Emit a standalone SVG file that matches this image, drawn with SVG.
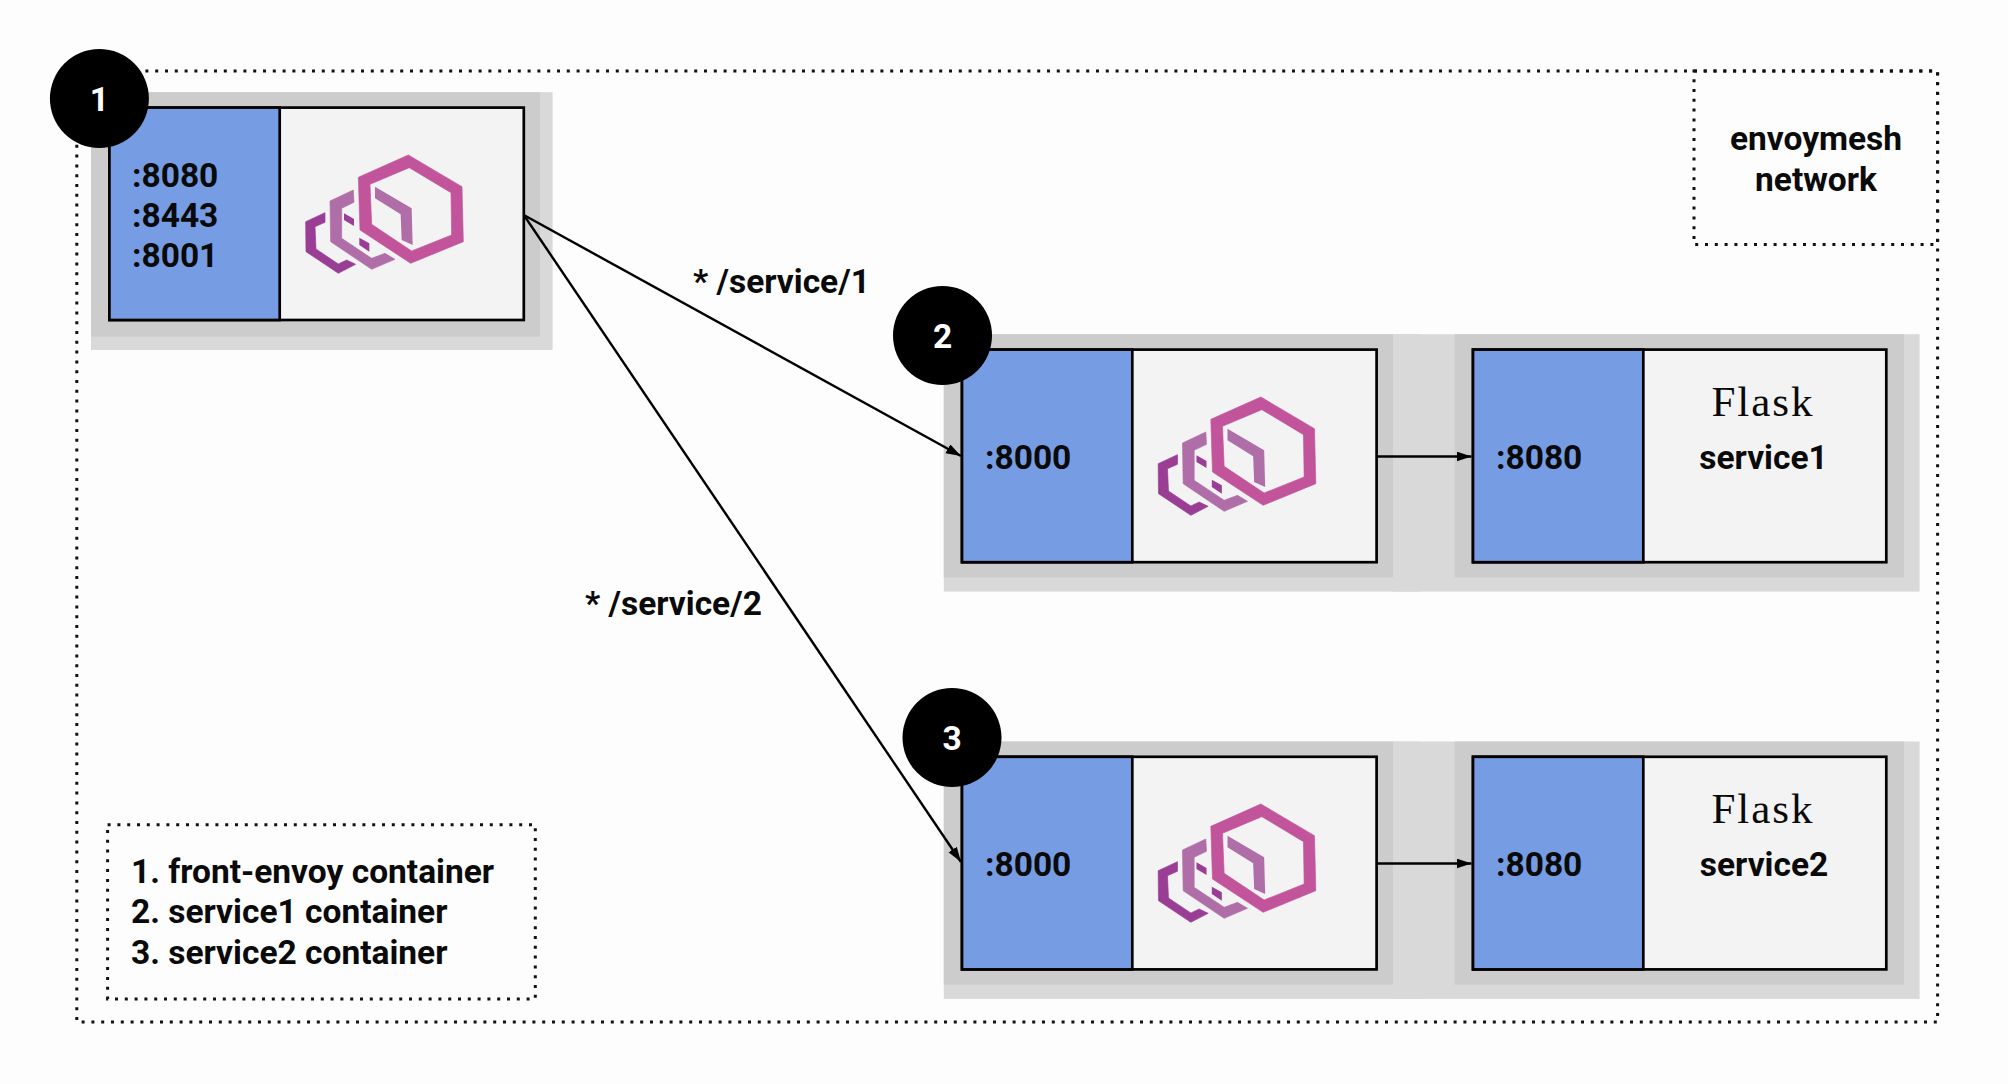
<svg xmlns="http://www.w3.org/2000/svg" xmlns:xlink="http://www.w3.org/1999/xlink" width="2008" height="1084" viewBox="0 0 2008 1084">
<style>
text{font-family:Roboto,"Liberation Sans",sans-serif;font-weight:700;font-size:33.5px;fill:#0a0a0a}
.mid{text-anchor:middle}
.num{fill:#fff;text-anchor:middle}
.flask{font-family:"Liberation Serif",serif;font-weight:400;font-size:43px;letter-spacing:2px;text-anchor:middle}
.dot{fill:none;stroke:#111;stroke-width:3;stroke-linecap:butt;stroke-dasharray:3 6.8}
.s1{fill:#d9d9d9}.s2{fill:#cccccc}
.port{fill:#769ce3;stroke:#000;stroke-width:2.7}
.body{fill:#f3f3f3;stroke:#000;stroke-width:2.7}
.conn{fill:none;stroke:#000;stroke-width:2.4;marker-end:url(#arrow)}
</style>
<defs>
<marker id="arrow" markerUnits="userSpaceOnUse" markerWidth="16" markerHeight="12" refX="15" refY="5" orient="auto"><path d="M0 0L15 5L0 10Z" fill="#000"/></marker>
<g id="logo" transform="translate(290 145) scale(.3333)" stroke-width="2" stroke-linejoin="round">
<path fill="#9a3d95" stroke="#9a3d95" d="M105 203L47 230L48 320L145 385L197 358L170 345L145 357L78 312L75 245L105 232Z"/>
<path fill="#b06ea9" stroke="#b06ea9" d="M190 135L120 168L122 290L245 373L315 343L285 325L245 340L155 280L155 190L192 172Z"/>
<path fill="#9a3d95" d="M162 205L192 222L192 243L162 225ZM208 278L238 295L238 320L208 300Z"/>
<path fill="#c2549b" stroke="#c2549b" fill-rule="evenodd" d="M355 30L516 125L520 290L362 355L210 255L205 97ZM358 68L240 118L245 238L365 318L485 270L483 143Z"/>
<path fill="#b06ea9" d="M255 125L365 190L368 300L335 285L332 208L255 160Z"/>
</g>
</defs>
<rect width="2008" height="1084" fill="#fdfdfd"/>
<g id="frames">
<rect class="dot" x="76.8" y="71" width="1860.8" height="951"/>
<g id="network">
<rect class="dot" x="1694" y="71" width="243.6" height="173.6"/>
<text class="mid" x="1816" y="150">envoymesh</text>
<text class="mid" x="1816" y="191">network</text>
</g>
<g id="legend">
<rect class="dot" x="107.6" y="824.7" width="427.7" height="174.2"/>
<text x="131" y="883">1. front-envoy container</text>
<text x="131" y="923">2. service1 container</text>
<text x="131" y="964">3. service2 container</text>
</g>
</g>
<g id="node-1">
<rect class="s1" x="91" y="92.2" width="461.6" height="257.8"/>
<rect class="s2" x="91" y="92.2" width="449" height="244.6"/>
<rect class="body" x="109.4" y="107.6" width="414.4" height="212.4"/>
<rect class="port" x="109.4" y="107.6" width="170.3" height="212.4"/>
<text x="132" y="186.5">:8080</text>
<text x="132" y="226.5">:8443</text>
<text x="132" y="266.5">:8001</text>
<use href="#logo"/>
<circle cx="99.4" cy="98.6" r="49.5" fill="#000"/>
<text class="num" x="99.4" y="110.5">1</text>
</g>
<g id="node-2">
<rect class="s1" x="943.8" y="334.2" width="475.8" height="257.4"/>
<rect class="s2" x="943.8" y="334.2" width="449.6" height="243.3"/>
<rect class="body" x="962" y="349.6" width="414.6" height="212.6"/>
<rect class="port" x="962" y="349.6" width="170.3" height="212.6"/>
<text x="985" y="468.5">:8000</text>
<use href="#logo" x="852.5" y="242"/>
<circle cx="942.5" cy="335.5" r="49.5" fill="#000"/>
<text class="num" x="942.5" y="347.5">2</text>
</g>
<g id="service-1">
<rect class="s1" x="1393" y="334.2" width="526.6" height="257.4"/>
<rect class="s2" x="1454.7" y="334.2" width="449.3" height="243.3"/>
<rect class="body" x="1473" y="349.6" width="413.3" height="212.6"/>
<rect class="port" x="1473" y="349.6" width="170.3" height="212.6"/>
<text x="1496" y="468.5">:8080</text>
<text class="flask" x="1763" y="416">Flask</text>
<text class="mid" x="1763.5" y="468.5">service1</text>
</g>
<g id="node-3">
<rect class="s1" x="943.8" y="741.5" width="475.8" height="257.4"/>
<rect class="s2" x="943.8" y="741.5" width="449.6" height="243.3"/>
<rect class="body" x="962" y="756.8" width="414.6" height="212.6"/>
<rect class="port" x="962" y="756.8" width="170.3" height="212.6"/>
<text x="985" y="875.5">:8000</text>
<use href="#logo" x="852.5" y="649"/>
<circle cx="952" cy="737.6" r="49.5" fill="#000"/>
<text class="num" x="952" y="749.5">3</text>
</g>
<g id="service-2">
<rect class="s1" x="1393" y="741.5" width="526.6" height="257.4"/>
<rect class="s2" x="1454.7" y="741.5" width="449.3" height="243.3"/>
<rect class="body" x="1473" y="756.8" width="413.3" height="212.6"/>
<rect class="port" x="1473" y="756.8" width="170.3" height="212.6"/>
<text x="1496" y="875.5">:8080</text>
<text class="flask" x="1763" y="823">Flask</text>
<text class="mid" x="1764" y="875.5">service2</text>
</g>
<g id="connectors">
<path class="conn" d="M523.8 215L961 456"/>
<path class="conn" d="M523.8 215L961 862"/>
<path class="conn" d="M1376.6 456.5H1471.5"/>
<path class="conn" d="M1376.6 863.5H1471.5"/>
<text x="693" y="292.5">* /service/1</text>
<text x="585" y="614.5">* /service/2</text>
</g>
</svg>
